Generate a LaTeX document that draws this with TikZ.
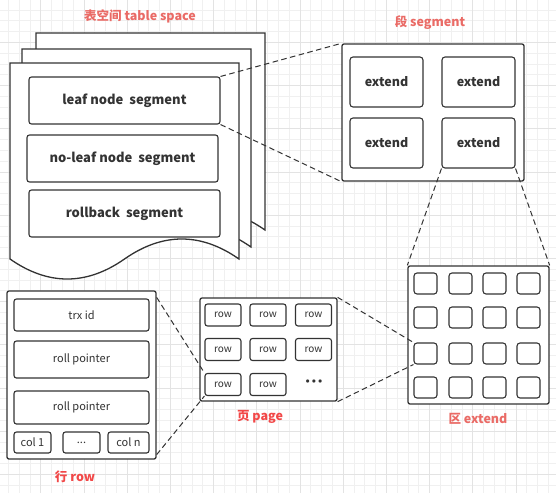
\documentclass[tikz,border=0pt]{standalone}
\usepackage{fontspec}
\setmainfont{Noto Sans CJK SC}
\definecolor{linec}{HTML}{333333}
\definecolor{txt}{HTML}{333333}
\definecolor{salmon}{HTML}{EA6B66}
\definecolor{brightred}{HTML}{F24848}
\definecolor{gminor}{HTML}{F0F0F0}
\definecolor{gmajor}{HTML}{E3E3E3}
\tikzset{
  base/.style={draw=linec, line width=1.1pt, fill=white, inner sep=0pt, text=txt},
  segbox/.style={base, rounded corners=2.5pt, minimum width=191pt, minimum height=47pt, font=\bfseries\fontsize{13}{13}\selectfont},
  outerbox/.style={base, rounded corners=2pt, line width=1.3pt},
  extbox/.style={base, rounded corners=3pt, minimum width=73pt, minimum height=50pt, font=\bfseries\fontsize{12.5}{12.5}\selectfont},
  sq/.style={base, rounded corners=3pt, minimum width=23pt, minimum height=21pt},
  rowcell/.style={base, rounded corners=2.5pt, minimum width=36pt, minimum height=22pt, font=\fontsize{10}{10}\selectfont},
  fieldbox/.style={base, rounded corners=2.5pt, font=\fontsize{11}{11}\selectfont},
  conn/.style={draw=linec, line width=1pt, dash pattern=on 5.5pt off 3.5pt},
  titleA/.style={text=salmon, font=\bfseries\fontsize{12.5}{12.5}\selectfont},
  titleB/.style={text=brightred, font=\bfseries\fontsize{12.5}{12.5}\selectfont},
  sheet/.style={draw=linec, line width=1.3pt, fill=white},
}
\newcommand\docsheet[3]{% x0, top, base ; width 229
  \draw[sheet] (#1,#2) -- ({#1+229},#2) -- ({#1+229},#3)
    .. controls ({#1+229-38.17},{#3-26.67}) and ({#1+152.67},{#3-26.67}) .. ({#1+114.5},#3)
    .. controls ({#1+76.33},{#3+26.67}) and ({#1+38.17},{#3+26.67}) .. (#1,#3) -- cycle;}
\begin{document}
\begin{tikzpicture}[x=1pt,y=-1pt]
\useasboundingbox (0,0) rectangle (556,493);
\fill[white] (0,0) rectangle (556,493);
% grid
\foreach \k in {0,...,51} \draw[gminor, line width=0.8pt] ({8.4+10.8*\k},0) -- ({8.4+10.8*\k},493);
\foreach \k in {0,...,45} \draw[gminor, line width=0.8pt] (0,{10+10.8*\k}) -- (556,{10+10.8*\k});
\foreach \k in {0,...,11} \draw[gmajor, line width=0.8pt] ({40.8+43.2*\k},0) -- ({40.8+43.2*\k},493);
\foreach \k in {0,...,10} \draw[gmajor, line width=0.8pt] (0,{42.4+43.2*\k}) -- (556,{42.4+43.2*\k});

% table space
\node[titleA] (tsT) at (140,16) {表空间 table space};
\docsheet{36}{33}{230}
\docsheet{22}{49}{247}
\docsheet{10}{63}{259}
\node[segbox] (leaf) at (124.5,100.5) {leaf node\ \ segment};
\node[segbox] (noleaf) at (122.5,158.5) {no-leaf node\ \ segment};
\node[segbox] (rollback) at (124.5,213.5) {rollback\ \ segment};

% segment
\node[titleA] (segT) at (430,23) {段 segment};
\node[outerbox, minimum width=182pt, minimum height=137pt] (seg) at (433,112.5) {};
\node[extbox] (e1) at (386.5,82) {extend};
\node[extbox] (e2) at (478.5,82) {extend};
\node[extbox] (e3) at (386.5,143) {extend};
\node[extbox] (e4) at (478.5,143) {extend};

% extend area
\node[outerbox, minimum width=141pt, minimum height=138pt] (area) at (478.5,335) {};
\node[titleA] (areaT) at (478,419) {区 extend};
\foreach \c/\x in {1/425.5,2/460.5,3/494.5,4/528.5}
  \foreach \r/\y in {1/283.5,2/317.5,3/353.5,4/387.5}
    \node[sq] (s\r\c) at (\x,\y) {};

% page
\node[outerbox, minimum width=137pt, minimum height=103pt] (page) at (268.5,349.5) {};
\node[titleB] (pageT) at (260,417) {页 page};
\node[rowcell] (p11) at (223,315) {row};
\node[rowcell] (p12) at (268,315) {row};
\node[rowcell] (p13) at (313.5,315) {row};
\node[rowcell] (p21) at (223,349.5) {row};
\node[rowcell] (p22) at (268,349.5) {row};
\node[rowcell] (p23) at (313.5,349.5) {row};
\node[rowcell] (p31) at (223,384.5) {row};
\node[rowcell] (p32) at (268,384.5) {row};
\node[text=txt, font=\fontsize{8}{8}\selectfont] (pdots) at (314,382) {$\bullet\bullet\bullet$};

% row
\node[outerbox, minimum width=149pt, minimum height=168pt] (rowbox) at (81.5,375) {};
\node[titleB] (rowT) at (75,477) {行 row};
\node[fieldbox, minimum width=135pt, minimum height=32pt] (trx) at (81.5,315) {trx id};
\node[fieldbox, minimum width=135pt, minimum height=37pt] (rp1) at (81.5,359.5) {roll pointer};
\node[fieldbox, minimum width=135pt, minimum height=33pt] (rp2) at (81.5,407.5) {roll pointer};
\node[fieldbox, minimum width=37pt, minimum height=21pt] (c1) at (32.5,442.5) {col 1};
\node[fieldbox, minimum width=37pt, minimum height=21pt] (cd) at (81.5,442.5) {...};
\node[fieldbox, minimum width=41pt, minimum height=21pt] (cn) at (128.5,442.5) {col n};

% connectors
\draw[conn] (leaf.north east) -- (seg.north west);
\draw[conn] (leaf.south east) -- (seg.south west);
\draw[conn] (e4.south west) -- (area.north west);
\draw[conn] (e4.south east) -- (area.north east);
\draw[conn] (page.north east) -- (s31.north west);
\draw[conn] (page.south east) -- (s31.south west);
\draw[conn] ([yshift=-7pt]rowbox.north east) -- (p31.north west);
\draw[conn] ([yshift=5pt]rowbox.south east) -- (p31.south west);
\end{tikzpicture}
\end{document}
